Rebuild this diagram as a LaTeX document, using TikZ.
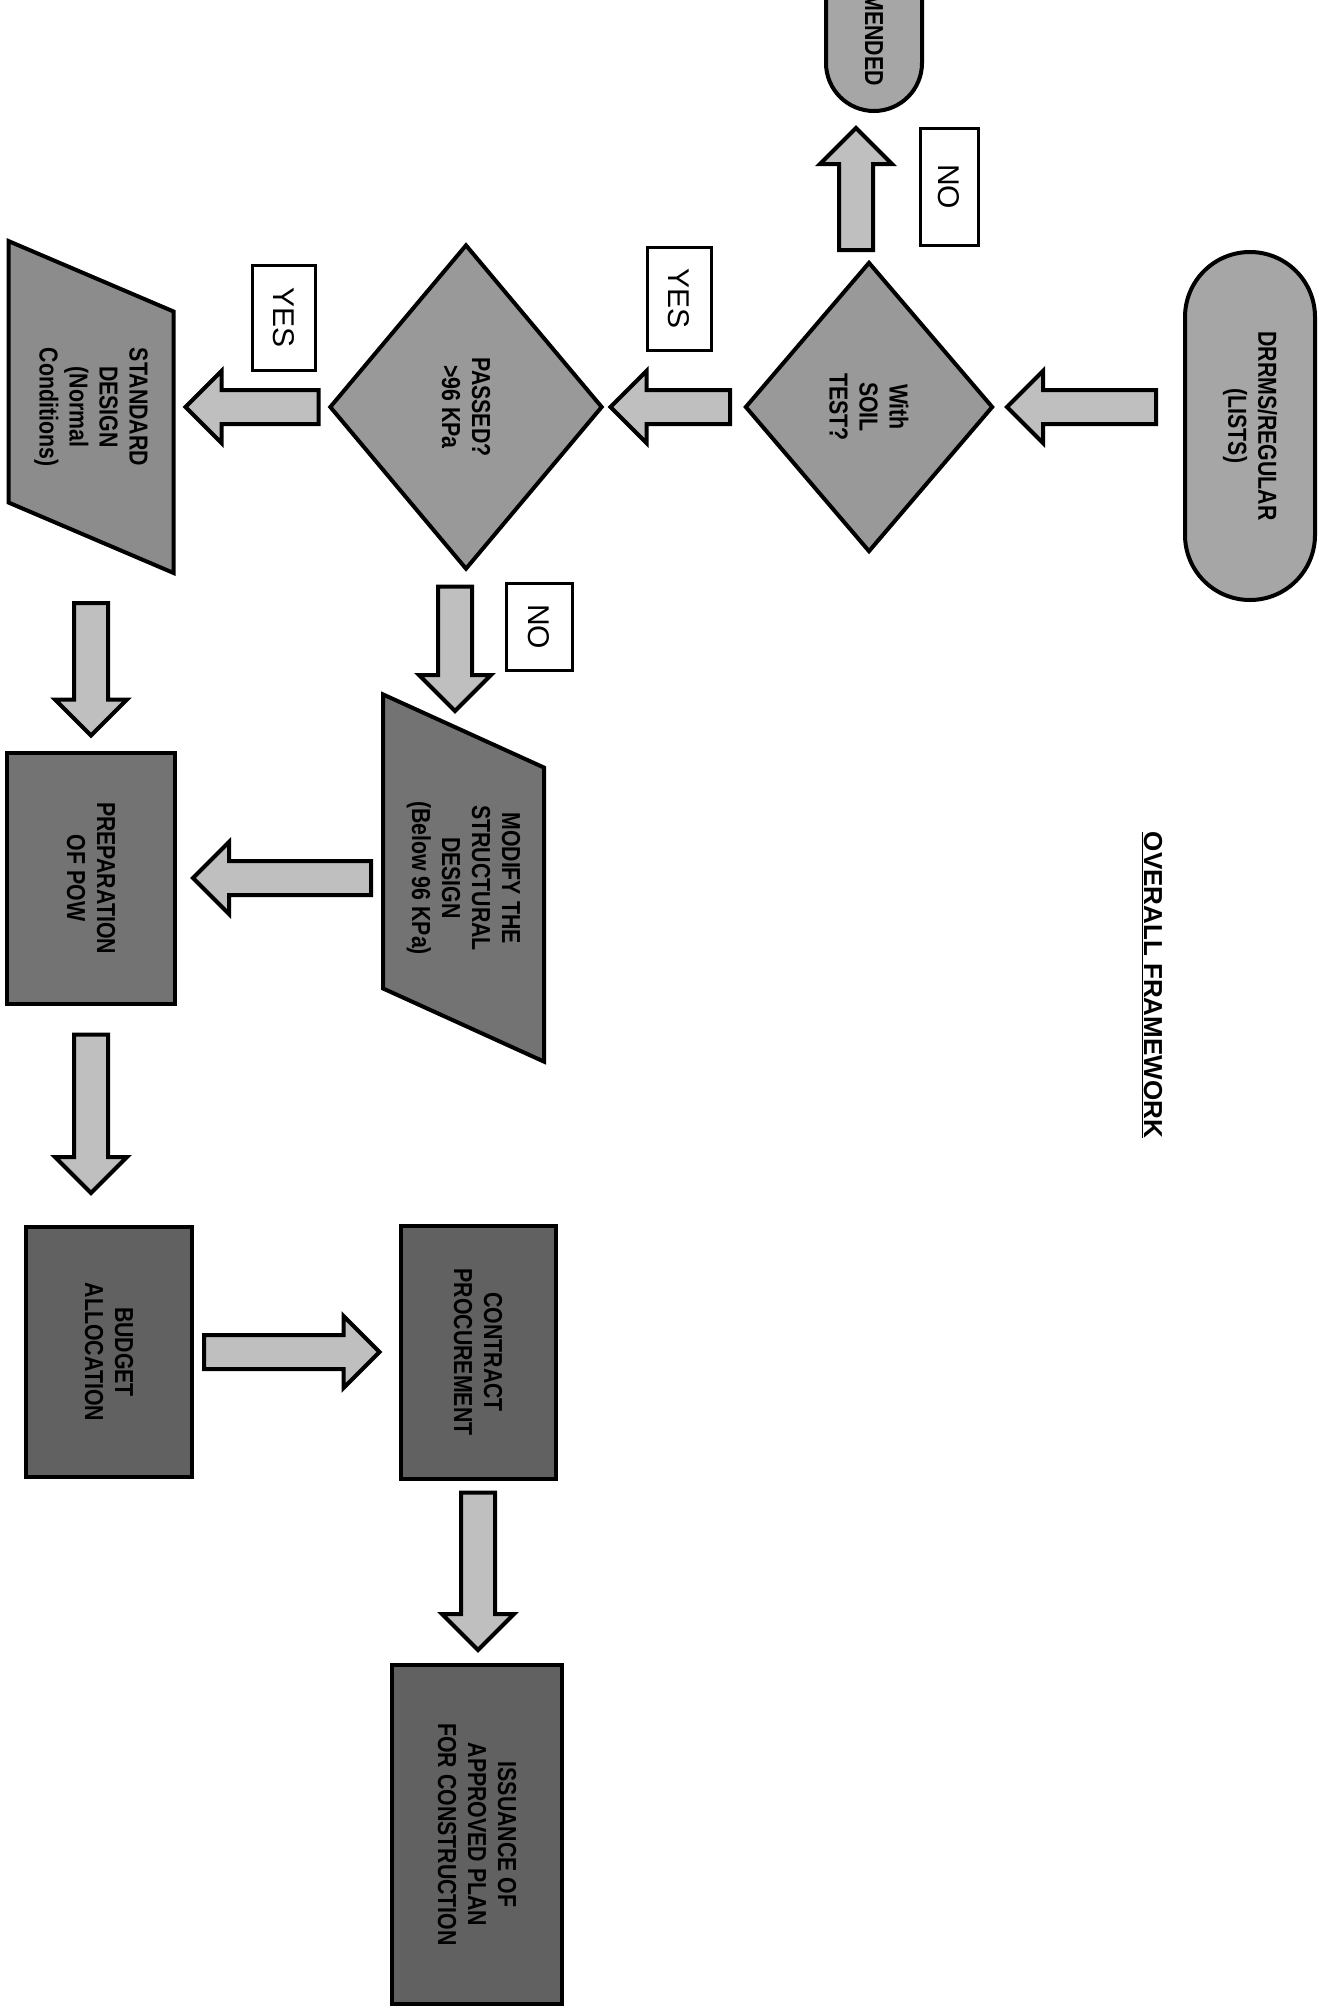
\documentclass[tikz,border=0pt]{standalone}
\usepackage{fontspec}
\setmainfont{Liberation Sans}
\newfontfamily\boxfont[FakeStretch=0.82]{Liberation Sans}
\usepackage{tikz}
\usetikzlibrary{calc,shapes.geometric,shapes.misc}

\tikzset{
  flowbox/.style={draw, line width=4bp, rotate=-90, align=center, inner sep=2bp,
    font=\boxfont\bfseries\fontsize{26bp}{30bp}\selectfont},
  terminal/.style={flowbox, rounded rectangle, fill=black!35},
  decision/.style={flowbox, diamond, fill=black!40, inner sep=0pt},
  ioblock/.style={flowbox, trapezium, trapezium stretches=true, fill=black!45},
  process/.style={flowbox, rectangle, fill=black!55},
  answer/.style={draw, line width=3bp, fill=white, rotate=-90,
    font=\fontsize{30bp}{32bp}\selectfont},
  blockarr/.style={draw, line width=4bp, fill=black!25, line join=miter},
}

% fat arrow from #1 to tip #2
\newcommand{\blockarrow}[2]{%
  \coordinate (ba-s) at #1;
  \coordinate (ba-t) at #2;
  \coordinate (ba-h) at ($(ba-t)!36bp!(ba-s)$);
  \draw[blockarr] ($(ba-s)!17bp!90:(ba-t)$) -- ($(ba-h)!17bp!90:(ba-t)$)
    -- ($(ba-h)!36bp!90:(ba-t)$) -- (ba-t) -- ($(ba-h)!36bp!-90:(ba-t)$)
    -- ($(ba-h)!17bp!-90:(ba-t)$) -- ($(ba-s)!17bp!-90:(ba-t)$) -- cycle;
}

\begin{document}
\begin{tikzpicture}

\useasboundingbox (0,0) rectangle (1319bp,-2009bp);
\clip (0,0) rectangle (1319bp,-2009bp);

\node (title) at (1152bp,-985bp)[rotate=-90, font=\bfseries\fontsize{26bp}{28bp}\selectfont] {\underline{OVERALL FRAMEWORK}};

\node (drrms) at (1250bp,-426bp)[terminal, minimum width=352bp, minimum height=130bp] {DRRMS/REGULAR\\(LISTS)};
\node (reject) at (874bp,0bp)[terminal, minimum width=226bp, minimum height=96bp] {RECOMMENDED};
\node (soil) at (869bp,-407bp)[decision, minimum width=290bp, minimum height=248bp] {With\\SOIL\\TEST?};
\node (passed) at (466bp,-407bp)[decision, minimum width=325bp, minimum height=273bp] {PASSED?\\>96 KPa};
\node (standard) at (91bp,-407bp)[ioblock, trapezium left angle=69, trapezium right angle=111, minimum width=333bp, minimum height=165bp] {STANDARD\\DESIGN\\(Normal\\Conditions)};
\node (modify) at (463.5bp,-878bp)[ioblock, fill=black!55, trapezium left angle=66, trapezium right angle=114, minimum width=368bp, minimum height=161bp] {MODIFY THE\\STRUCTURAL\\DESIGN\\(Below 96 KPa)};
\node (prep) at (91bp,-878bp)[process, minimum width=251bp, minimum height=168bp] {PREPARATION\\OF POW};
\node (budget) at (109bp,-1352bp)[process, fill=black!62, minimum width=250bp, minimum height=166bp] {BUDGET\\ALLOCATION};
\node (contract) at (478bp,-1352bp)[process, fill=black!62, minimum width=253bp, minimum height=155bp] {CONTRACT\\PROCUREMENT};
\node (issue) at (477bp,-1834.5bp)[process, fill=black!62, minimum width=339bp, minimum height=170bp] {ISSUANCE OF\\APPROVED PLAN\\FOR CONSTRUCTION};

\node (no1) at (949bp,-186.5bp)[answer, minimum width=117bp, minimum height=58bp] {NO};
\node (yes1) at (679bp,-298.5bp)[answer, minimum width=103bp, minimum height=64bp] {YES};
\node (yes2) at (283.5bp,-317.5bp)[answer, minimum width=105bp, minimum height=63bp] {YES};
\node (no2) at (539bp,-626.5bp)[answer, minimum width=87bp, minimum height=66bp] {NO};

\blockarrow{([xshift=-27bp,yshift=19bp]drrms.south)}{([xshift=12bp]soil.north)}
\blockarrow{([xshift=-13bp,yshift=10bp]soil.west)}{([xshift=-18bp,yshift=-15bp]reject.east)}
\blockarrow{([xshift=-13bp]soil.south)}{([xshift=6bp]passed.north)}
\blockarrow{([xshift=-9bp]passed.south)}{([xshift=94.5bp]standard.center)}
\blockarrow{([xshift=-11bp,yshift=-15bp]passed.east)}{([xshift=-8.5bp,yshift=167bp]modify.center)}
\blockarrow{([yshift=-196bp]standard.center)}{([yshift=15bp]prep.west)}
\blockarrow{([xshift=-92.5bp]modify.center)}{([xshift=16bp]prep.north)}
\blockarrow{([yshift=-29bp]prep.east)}{([xshift=-18bp,yshift=32bp]budget.west)}
\blockarrow{([xshift=10bp]budget.north)}{([xshift=-19bp]contract.south)}
\blockarrow{([yshift=-12bp]contract.east)}{([xshift=1bp,yshift=13bp]issue.west)}

\end{tikzpicture}
\end{document}
